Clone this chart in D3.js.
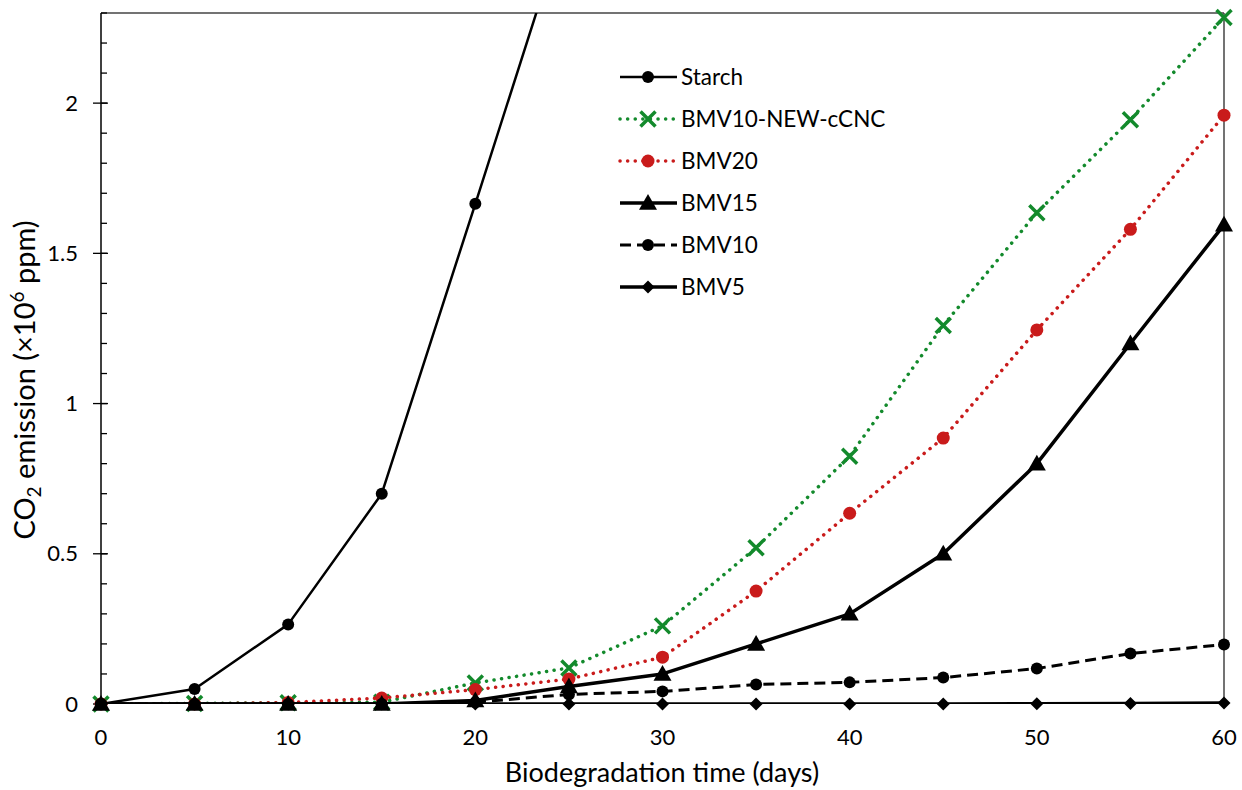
<!DOCTYPE html>
<html>
<head>
<meta charset="utf-8">
<script src="https://cdn.jsdelivr.net/npm/d3@7"></script>
<style>
  html, body { margin: 0; padding: 0; background: #fff; }
  svg { display: block; }
  text { font-family: "Lato", "Noto Sans", sans-serif; fill: #000; }
</style>
</head>
<body>
<svg id="chart" width="1242" height="790"></svg>
<script>
// ---- data ----
const days = [0, 5, 10, 15, 20, 25, 30, 35, 40, 45, 50, 55, 60];
const starch = [0, 0.05, 0.265, 0.70, 1.665, 2.64];
const bmv10NewCnc = [0, 0.002, 0.004, 0.006, 0.07, 0.12, 0.26, 0.52, 0.825, 1.26, 1.635, 1.945, 2.285];
const bmv20 = [0, 0, 0.005, 0.02, 0.048, 0.083, 0.156, 0.376, 0.635, 0.885, 1.245, 1.58, 1.96];
const bmv15 = [0, 0, 0, 0, 0.012, 0.058, 0.10, 0.20, 0.30, 0.50, 0.80, 1.20, 1.595];
const bmv10 = [0, 0, 0, 0, 0.006, 0.032, 0.042, 0.065, 0.072, 0.088, 0.118, 0.168, 0.198];
const bmv5 = [0, 0, 0, 0, 0, 0, 0, 0, 0, 0, 0.001, 0.002, 0.003];
const seriesNames = ["Starch", "BMV10-NEW-cCNC", "BMV20", "BMV15", "BMV10", "BMV5"];
const xTicks = [0, 10, 20, 30, 40, 50, 60];
const yTicks = [0, 0.5, 1, 1.5, 2];
const yTickLabels = ["0", "0.5", "1", "1.5", "2"];
const yMinorTicks = d3.range(0, 2.31, 0.1);

// ---- styles ----
const styles = {
  "Starch":          { values: starch,      color: "#000", width: 2.5, dash: null,    cap: "butt",  marker: "circle",   size: 6 },
  "BMV10-NEW-cCNC":  { values: bmv10NewCnc, color: "#138a2c", width: 3.5, dash: "0.1,7.5", cap: "round", marker: "x", size: 7.5 },
  "BMV20":           { values: bmv20,       color: "#c91b1b", width: 3.5, dash: "0.1,7.5", cap: "round", marker: "circle", size: 6.5 },
  "BMV15":           { values: bmv15,       color: "#000", width: 3.5, dash: null,    cap: "butt",  marker: "triangle", size: 9 },
  "BMV10":           { values: bmv10,       color: "#000", width: 3,   dash: "11,6",  cap: "butt",  marker: "circle",   size: 6 },
  "BMV5":            { values: bmv5,        color: "#000", width: 3.5, dash: null,    cap: "butt",  marker: "diamond",  size: 6.5 }
};

const svg = d3.select("#chart");
const L = 101, R = 1224, T = 13, B = 704;
const x = d3.scaleLinear().domain([0, 60]).range([L, R]);
const y = d3.scaleLinear().domain([0, 2.3]).range([B, T]);

svg.append("defs").append("clipPath").attr("id", "plotClip")
  .append("rect").attr("x", L).attr("y", T).attr("width", R - L).attr("height", B - T);

// frame (top and right)
svg.append("line").attr("x1", L).attr("x2", R).attr("y1", T).attr("y2", T)
  .attr("stroke", "#444").attr("stroke-width", 1.5);
svg.append("line").attr("x1", R).attr("x2", R).attr("y1", T).attr("y2", B)
  .attr("stroke", "#444").attr("stroke-width", 1.5);

// y axis
svg.append("line").attr("x1", L).attr("x2", L).attr("y1", T).attr("y2", B)
  .attr("stroke", "#000").attr("stroke-width", 1.5);
svg.append("g").selectAll("line").data(yMinorTicks).join("line")
  .attr("x1", L).attr("x2", L + 6).attr("y1", d => y(d)).attr("y2", d => y(d))
  .attr("stroke", "#000").attr("stroke-width", 1.3);
svg.append("g").selectAll("line").data(yTicks).join("line")
  .attr("x1", L - 8).attr("x2", L + 7).attr("y1", d => y(d)).attr("y2", d => y(d))
  .attr("stroke", "#000").attr("stroke-width", 1.3);
svg.append("g").selectAll("text").data(yTicks).join("text")
  .attr("x", 78).attr("y", d => y(d)).attr("dy", "0.35em")
  .attr("text-anchor", "end").attr("font-size", 22)
  .text((d, i) => yTickLabels[i]);

// x tick labels
svg.append("g").selectAll("text").data(xTicks).join("text")
  .attr("x", d => x(d)).attr("y", 745)
  .attr("text-anchor", "middle").attr("font-size", 22)
  .text(d => d);

// axis titles
svg.append("text").attr("x", 662).attr("y", 782).attr("text-anchor", "middle")
  .attr("font-size", 27).text("Biodegradation time (days)");
const yt = svg.append("text").attr("transform", "translate(35,380) rotate(-90)")
  .attr("text-anchor", "middle").attr("font-size", 29);
yt.append("tspan").text("CO");
yt.append("tspan").attr("font-size", 19).attr("dy", 6).text("2");
yt.append("tspan").attr("dy", -6).text(" emission (×10");
yt.append("tspan").attr("font-size", 19).attr("dy", -11).text("6");
yt.append("tspan").attr("dy", 11).text(" ppm)");

// marker drawing
function drawMarker(g, type, cx, cy, s, color) {
  if (type === "circle") {
    g.append("circle").attr("cx", cx).attr("cy", cy).attr("r", s).attr("fill", color);
  } else if (type === "x") {
    g.append("path").attr("d", `M${cx - s},${cy - s}L${cx + s},${cy + s}M${cx - s},${cy + s}L${cx + s},${cy - s}`)
      .attr("stroke", color).attr("stroke-width", 3.5).attr("fill", "none");
  } else if (type === "triangle") {
    g.append("path").attr("d", `M${cx},${cy - s}L${cx + s},${cy + s * 0.75}L${cx - s},${cy + s * 0.75}Z`).attr("fill", color);
  } else if (type === "diamond") {
    g.append("path").attr("d", `M${cx},${cy - s}L${cx + s},${cy}L${cx},${cy + s}L${cx - s},${cy}Z`).attr("fill", color);
  }
}

const drawOrder = ["BMV10-NEW-cCNC", "BMV20", "BMV10", "BMV5", "BMV15", "Starch"];
const line = d3.line().x(d => x(d[0])).y(d => y(d[1]));
drawOrder.forEach(name => {
  const st = styles[name];
  const pts = st.values.map((v, i) => [days[i], v]);
  const g = svg.append("g");
  g.append("path").datum(pts).attr("d", line)
    .attr("clip-path", "url(#plotClip)")
    .attr("fill", "none").attr("stroke", st.color).attr("stroke-width", st.width)
    .attr("stroke-dasharray", st.dash).attr("stroke-linecap", st.cap).attr("stroke-linejoin", "round");
  pts.filter(p => p[1] <= 2.3).forEach(p => drawMarker(g, st.marker, x(p[0]), y(p[1]), st.size, st.color));
});

// legend
const legY = [77, 119, 161, 203, 245, 287];
seriesNames.forEach((name, i) => {
  const st = styles[name];
  const g = svg.append("g");
  const ly = legY[i];
  g.append("line").attr("x1", 620).attr("x2", 677).attr("y1", ly).attr("y2", ly)
    .attr("stroke", st.color).attr("stroke-width", st.width)
    .attr("stroke-dasharray", st.dash).attr("stroke-linecap", st.cap);
  drawMarker(g, st.marker, 648, ly, st.size, st.color);
  g.append("text").attr("x", 681).attr("y", ly).attr("dy", "0.35em")
    .attr("font-size", 22.5).text(name);
});
</script>
</body>
</html>
